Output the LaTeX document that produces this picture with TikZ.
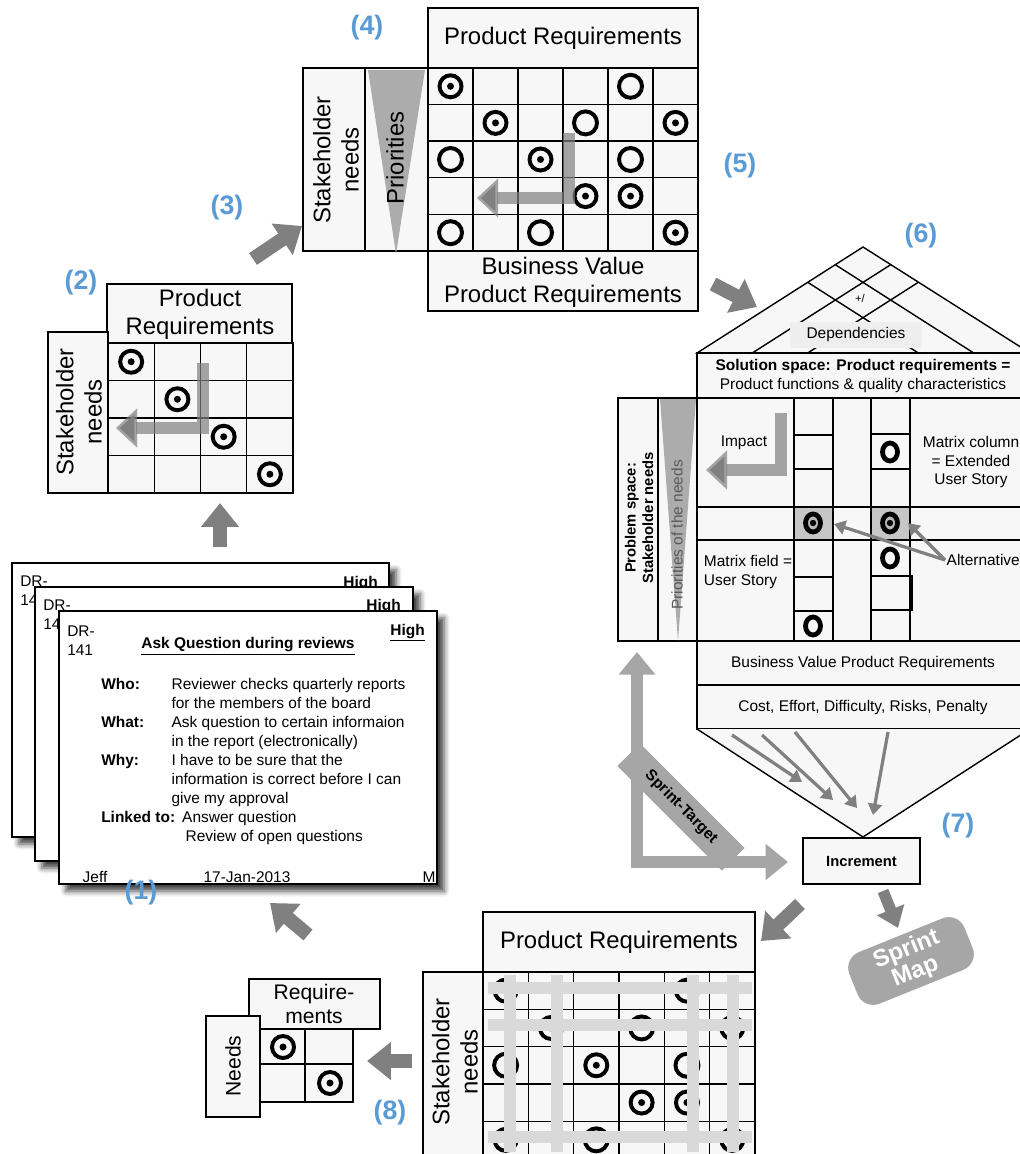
\documentclass[tikz,border=0pt]{standalone}
\usepackage{fontspec}
\setmainfont{Liberation Sans}
\usetikzlibrary{arrows.meta,shadows.blur}
\definecolor{labelblue}{RGB}{91,155,213}
\definecolor{arrowgray}{RGB}{128,128,128}
\definecolor{boxfill}{RGB}{247,247,247}
\definecolor{depfill}{RGB}{238,238,238}
\definecolor{bargray}{RGB}{217,217,217}
\definecolor{tipgray}{RGB}{166,166,166}

\begin{document}
\begin{tikzpicture}[
  x=0.025cm, y=-0.025cm,
  box/.style={draw=black, line width=1pt, fill=boxfill},
  gridline/.style={draw=black, line width=1pt},
  bigtext/.style={font=\fontsize{17}{20}\selectfont, align=center},
  midtext/.style={font=\fontsize{11}{13.5}\selectfont, align=center},
  cardtext/.style={font=\fontsize{11}{13.5}\selectfont, anchor=north west, align=left, inner sep=0pt},
  numlabel/.style={text=labelblue, font=\fontsize{19}{22}\selectfont\bfseries},
  card/.style={draw=black, line width=1.2pt, fill=white,
    blur shadow={shadow xshift=5pt, shadow yshift=-5pt, shadow blur radius=4pt, shadow opacity=75}},
  symring/.style={draw=black, line width=2.8pt},
  hoqring/.style={draw=black, line width=3.4pt},
  blockarrow/.style={draw=arrowgray, line width=10pt, -{Triangle[width=26pt,length=17pt]}},
  larrow/.style={draw=gray, draw opacity=0.7, line width=8pt, -{Triangle[width=27pt,length=15pt]}},
  thinarrow/.style={draw=arrowgray, line width=2.3pt, -{Triangle[width=10pt,length=8pt]}},
  hlbar/.style={draw=bargray, line width=8pt}
]
\useasboundingbox (0,0) rectangle (1019,1154);

% (2): first matrix
\draw[box] (107,284) rectangle (292,343);
\node[bigtext] (pr2) at (200,314) {Product\\Requirements};
\draw[box] (48,332) rectangle (108,493);
\node[bigtext, rotate=90] (sh2) at (79,412) {Stakeholder\\needs};
\draw[box] (108,343) rectangle (293,493);
\foreach \i in {1,2,3} {
  \draw[gridline] (108+46.25*\i,343) -- (108+46.25*\i,493);
  \draw[gridline] (108,343+37.5*\i) -- (293,343+37.5*\i);
}
\foreach \i in {1,...,4} {
  \draw[symring] (84.9+46.25*\i,324.25+37.5*\i) circle (11);
  \fill (84.9+46.25*\i,324.25+37.5*\i) circle (3.5);
}
\draw[larrow] (203,363) |- (116,428);
\node[numlabel] (n2) at (81,283) {(2)};

% (4): matrix with priorities
\draw[box] (428,8) rectangle (698,68);
\node[bigtext] (pr4) at (563,38) {Product Requirements};
\draw[box] (303,68) rectangle (365,251);
\node[bigtext, rotate=90] (sh4) at (336,160) {Stakeholder\\needs};
\draw[box] (365,68) rectangle (428,251);
\fill[gray!65] (368,70) -- (425,70) -- (396,254) -- cycle;
\node[bigtext, rotate=90] (prio4) at (395,158) {Priorities};
\draw[box] (428,68) rectangle (698,251);
\foreach \i in {1,...,5} \draw[gridline] (428+45*\i,68) -- (428+45*\i,251);
\foreach \i in {1,...,4} \draw[gridline] (428,68+36.6*\i) -- (698,68+36.6*\i);
\foreach \c/\r in {1/1,2/2,6/2,3/3,4/4,5/4,6/5} {
  \draw[symring] (405.5+45*\c,49.7+36.6*\r) circle (11);
  \fill (405.5+45*\c,49.7+36.6*\r) circle (3.5);
}
\foreach \c/\r in {5/1,4/2,1/3,5/3,1/5,3/5}
  \draw[symring] (405.5+45*\c,49.7+36.6*\r) circle (11.5);
\draw[larrow] (569,133) |- (477,198);
\draw[box] (428,251) rectangle (698,311);
\node[bigtext] (bv4) at (563,282) {Business Value\\Product Requirements};
\node[numlabel] (n4) at (367,28) {(4)};

% arrows between the stages
\coordinate (a1s) at (220,547); \coordinate (a1e) at (220,503);
\coordinate (a3s) at (253,259); \coordinate (a3e) at (302,226);
\coordinate (a5s) at (713,284); \coordinate (a5e) at (757,307);
\coordinate (a7s) at (800,904); \coordinate (a7e) at (761,941);
\coordinate (a8s) at (412,1061); \coordinate (a8e) at (367,1061);
\coordinate (a9s) at (308,935); \coordinate (a9e) at (270,903);
\draw[blockarrow] (a1s) -- (a1e);
\draw[blockarrow] (a3s) -- (a3e);
\draw[blockarrow] (a5s) -- (a5e);
\draw[blockarrow] (a7s) -- (a7e);
\draw[blockarrow] (a8s) -- (a8e);
\draw[blockarrow] (a9s) -- (a9e);
\node[numlabel] (n3) at (227,208) {(3)};
\node[numlabel] (n5) at (740,166) {(5)};

% (1): user story cards
\draw[card] (12,563) rectangle (389,837);
\node[cardtext] (id1) at (20,576) {DR-\\14};
\node[cardtext, anchor=north east] (hi1) at (378,576) {\textbf{\underline{High}}};
\draw[card] (35,587) rectangle (413,861);
\node[cardtext] (id2) at (43,600) {DR-\\14};
\node[cardtext, anchor=north east] (hi2) at (401,599) {\textbf{\underline{High}}};
\draw[card] (59,611) rectangle (437,884);
\node[cardtext] (id3) at (67,626) {DR-\\141};
\node[cardtext, anchor=north east] (hi3) at (425,624) {\textbf{\underline{High}}};
\node[cardtext, anchor=center] (title) at (248,646) {\textbf{\underline{Ask Question during reviews}}};
\node[cardtext] (story) at (101,676) {%
  \begin{tabular}{@{}p{50pt}@{}l@{}}
  \textbf{Who:}  & Reviewer checks quarterly reports\\
                 & for the members of the board\\
  \textbf{What:} & Ask question to certain informaion\\
                 & in the report (electronically)\\
  \textbf{Why:}  & I have to be sure that the\\
                 & information is correct before I can\\
                 & give my approval\\
  \multicolumn{2}{@{}l@{}}{\textbf{Linked to:}\hspace{5pt}Answer question}\\
                 & \hspace{10pt}Review of open questions
  \end{tabular}};
\node[cardtext, anchor=center] (jeff) at (95,877) {Jeff};
\node[cardtext, anchor=center] (date) at (247,877) {17-Jan-2013};
\node[cardtext, anchor=center] (size) at (429,877) {M};
\node[numlabel] (n1) at (141,893) {(1)};

% (6): house of quality, roof
\draw[box] (697,353) -- (863,247) -- (1030,353) -- cycle;
\draw[gridline] (835.3,264.7) -- (973.7,353);
\draw[gridline] (890.7,264.7) -- (752.3,353);
\draw[gridline] (807.7,282.3) -- (918.3,353);
\draw[gridline] (918.3,282.3) -- (807.7,353);
\node[font=\fontsize{8}{9}\selectfont] (plus) at (860,298) {+/};
\node[fill=depfill, minimum width=3.3cm, minimum height=0.65cm,
  font=\fontsize{11}{13}\selectfont] (dep) at (856,335) {Dependencies};
\node[numlabel] (n6) at (921,236) {(6)};

% solution space
\draw[box] (697,353) rectangle (1030,398);
\node[midtext] (sol) at (863,376) {\textbf{Solution space: Product requirements =}\\Product functions \& quality characteristics};

% problem space and relationship matrix
\draw[box] (618,398) rectangle (658,641);
\node[midtext, rotate=90, font=\fontsize{10.5}{12.5}\selectfont\bfseries] (prob) at (639,518) {Problem space:\\Stakeholder needs};
\draw[box] (658,398) rectangle (697,641);
\fill[gray!65] (660,399) -- (696,399) -- (678,641) -- cycle;
\node[midtext, rotate=90, text=black!65] (prio6) at (677,535) {Priorities of the needs};
\draw[box] (697,398) rectangle (1030,641);
\fill[gray!45] (794,507) rectangle (833,540);
\fill[gray!45] (871,507) rectangle (910,540);
\draw[gridline] (697,507) -- (1030,507);
\draw[gridline] (697,540) -- (1030,540);
\foreach \x in {794,833,871,910} \draw[gridline] (\x,398) -- (\x,641);
\foreach \y in {435,469,577,611} \draw[gridline] (794,\y) -- (833,\y);
\foreach \y in {434,469} \draw[gridline] (871,\y) -- (910,\y);
\draw[draw=black, line width=1.6pt] (871,576) rectangle (912,610);
\foreach \x/\y in {890/452,890/558,813/626}
  \draw[hoqring] (\x,\y) ellipse (7.5 and 9);
\foreach \x in {813,890} {
  \draw[hoqring, fill=gray!55] (\x,523) ellipse (7.5 and 9);
  \fill (\x,523) circle (3.2);
}
\node[midtext] (impact) at (744,443) {Impact};
\draw[larrow] (781,413) |- (706,470);
\node[midtext] (mcol) at (971,462) {Matrix column\\= Extended\\User Story};
\node[midtext, anchor=west, align=left] (mfield) at (699,572) {Matrix field =\\User Story};
\node[midtext, anchor=west, inner sep=1pt] (alt) at (945,560) {Alternatives};
\coordinate (altA) at (834,524);
\coordinate (altB) at (908,523);
\draw[thinarrow] (alt.west) -- (altA);
\draw[thinarrow] (alt.west) -- (altB);

% business value, cost and cellar
\draw[box] (697,641) rectangle (1030,685);
\node[midtext] (bv6) at (863,663) {Business Value Product Requirements};
\draw[box] (697,685) rectangle (1030,729);
\node[midtext] (cost) at (863,707) {Cost, Effort, Difficulty, Risks, Penalty};
\draw[box] (697,729) -- (863,837) -- (1030,729);
\foreach \sx/\sy/\ex/\ey in {732/735/802/782, 762/735/833/800, 795/732/857/808, 888/732/873/815}
  \draw[thinarrow] (\sx,\sy) -- (\ex,\ey);

% (7): increment and sprint
\node[draw=black, line width=1pt, fill=boxfill, minimum width=2.925cm, minimum height=1.15cm,
  font=\fontsize{10.5}{12}\selectfont\bfseries] (inc) at (861.5,861) {Increment};
\node[numlabel] (n7) at (958,826) {(7)};
\coordinate (stTop) at (637,652);
\coordinate (stEnd) at (788,862);
\draw[draw=tipgray, line width=8.5pt, {Triangle[width=25pt,length=16pt]}-{Triangle[width=25pt,length=16pt]}]
  (stTop) |- (stEnd);
\node[fill=tipgray, rotate=-45, minimum width=3.7cm, minimum height=0.8cm,
  font=\fontsize{11}{12}\selectfont\bfseries] (stlab) at (681,807) {Sprint-Target};
\node[fill=tipgray, rounded corners=12pt, rotate=22, minimum width=3.1cm, minimum height=1.3cm,
  text=white, align=center, font=\fontsize{17}{17}\selectfont\bfseries] (smap) at (911,961) {Sprint\\Map};
\coordinate (a10s) at (883,891);
\coordinate (a10e) at (898,928);
\draw[draw=arrowgray, line width=8pt, -{Triangle[width=20pt,length=14pt]}] (a10s) -- (a10e);

% (8): next matrix
\draw[box] (483,912) rectangle (755,972);
\node[bigtext] (pr9) at (619,942) {Product Requirements};
\draw[box] (423,972) rectangle (483,1160);
\node[bigtext, rotate=90] (sh9) at (455,1062) {Stakeholder\\needs};
\draw[box] (483,972) rectangle (755,1160);
\foreach \i in {1,...,5} \draw[gridline] (483+45.33*\i,972) -- (483+45.33*\i,1160);
\foreach \i in {1,...,4} \draw[gridline] (483,972+37.3*\i) -- (755,972+37.3*\i);
\foreach \c/\r in {1/1,5/1,2/2,6/2,3/3,4/4,5/4,1/5,6/5} {
  \draw[symring] (460.3+45.33*\c,953.35+37.3*\r) circle (11);
  \fill (460.3+45.33*\c,953.35+37.3*\r) circle (3.5);
}
\foreach \c/\r in {4/2,1/3,5/3,3/5}
  \draw[symring] (460.3+45.33*\c,953.35+37.3*\r) circle (11.5);
\foreach \y in {988,1025,1137} \draw[hlbar] (488,\y) -- (752,\y);
\foreach \x in {510,557,693,733} \draw[hlbar] (\x,975) -- (\x,1152);

% small matrix
\draw[box] (249,979) rectangle (380,1029);
\node[font=\fontsize{15}{17.5}\selectfont, align=center] (pr8) at (314,1004) {Require-\\ments};
\draw[box] (206,1016) rectangle (260,1117);
\node[font=\fontsize{15}{17.5}\selectfont, rotate=90] (nd8) at (233,1066) {Needs};
\draw[box] (260,1029) rectangle (353,1102);
\draw[gridline] (305,1029) -- (305,1102);
\draw[gridline] (260,1064) -- (353,1064);
\draw[draw=black, line width=1.6pt] (260,1064) rectangle (353,1102);
\foreach \x/\y in {283/1047,330/1083} {
  \draw[symring] (\x,\y) circle (11);
  \fill (\x,\y) circle (3.5);
}
\node[numlabel] (n8) at (390,1113) {(8)};

\end{tikzpicture}
\end{document}
